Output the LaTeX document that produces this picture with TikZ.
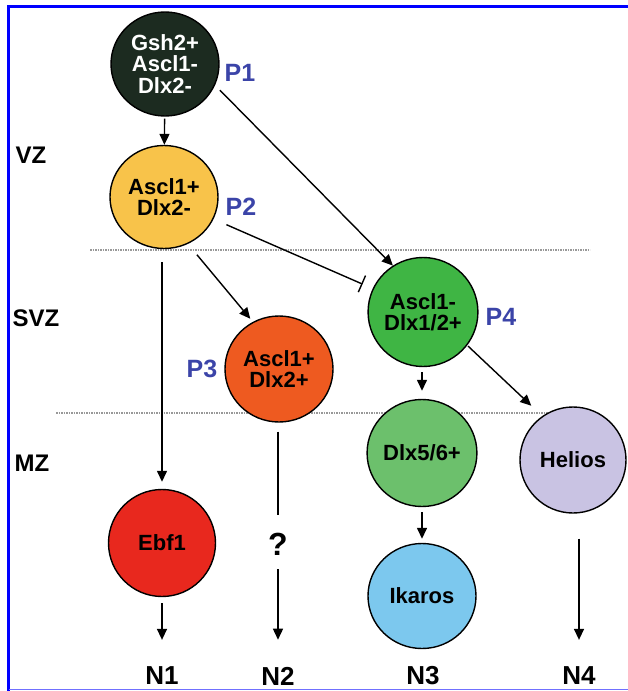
\documentclass[tikz,border=0pt]{standalone}
\usepackage{fontspec}
\setmainfont{Liberation Sans}
\usetikzlibrary{shapes.geometric,arrows.meta}
\definecolor{cdark}{HTML}{1C2B20}
\definecolor{cyellow}{HTML}{F8C34A}
\definecolor{corange}{HTML}{EE5A20}
\definecolor{cgreen}{HTML}{3FB544}
\definecolor{clgreen}{HTML}{6CC06C}
\definecolor{clav}{HTML}{C9C3E3}
\definecolor{cred}{HTML}{E8281E}
\definecolor{csky}{HTML}{7CC8EE}
\definecolor{pblue}{HTML}{3B44A8}
\definecolor{frameblue}{HTML}{0000FF}
\definecolor{framelight}{HTML}{7070FF}
\begin{document}
\begin{tikzpicture}[x=1pt,y=-1pt,
  cell/.style={ellipse,draw=black,line width=1.4pt,inner sep=0pt,
    minimum width=108pt,minimum height=106pt,
    font=\bfseries\fontsize{22}{21.5}\selectfont,align=center,text=black},
  plabel/.style={font=\bfseries\fontsize{25}{25}\selectfont,text=pblue,inner sep=0pt},
  zone/.style={font=\bfseries\fontsize{24}{24}\selectfont,inner sep=0pt},
  nlabel/.style={font=\bfseries\fontsize{26}{26}\selectfont,inner sep=0pt},
  arr/.style={-{Triangle[length=11pt,width=10pt]},line width=1.4pt},
  plain/.style={line width=1.4pt},
  inhib/.style={-{Bar[width=18pt,line width=1.4pt]},line width=1.4pt},
  sep/.style={draw=gray!80,line width=1.6pt,dash pattern=on 1.6pt off 0.9pt}]
\useasboundingbox (0,0) rectangle (628,691);

% frame
\draw[frameblue,line width=3pt] (8.5,691) -- (8.5,6.5) -- (628,6.5);
\draw[framelight,line width=1.8pt] (8.5,689.5) -- (628,689.5);

% zone separators
\draw[sep] (90,250) -- (590,250);
\draw[sep] (56,413) -- (562,413);

% zone labels
\node[zone] (vz) at (31,155) {VZ};
\node[zone] (svz) at (36,318) {SVZ};
\node[zone] (mz) at (32,463) {MZ};

% cells
\node[cell,fill=cdark,text=white,minimum height=104pt] (gsh) at (165,64) {Gsh2+\\Ascl1-\\Dlx2-};
\node[cell,fill=cyellow,minimum height=103pt] (p2c) at (164,197) {Ascl1+\\Dlx2-};
\node[cell,fill=corange] (p3c) at (279,369) {Ascl1+\\Dlx2+};
\node[cell,fill=cgreen,minimum width=109pt,minimum height=109pt] (p4c) at (423,312) {Ascl1-\\Dlx1/2+};
\node[cell,fill=clgreen,minimum height=107pt] (dlx56) at (422,453) {Dlx5/6+};
\node[cell,fill=clav,minimum width=106pt,minimum height=106pt] (helios) at (573,460) {Helios};
\node[cell,fill=cred,minimum width=107pt,minimum height=107pt] (ebf) at (162,543) {Ebf1};
\node[cell,fill=csky,minimum height=105pt] (ikaros) at (422,596) {Ikaros};

% P labels
\node[plabel] (p1) at (240,73) {P1};
\node[plabel] (p2) at (241,207) {P2};
\node[plabel] (p3) at (202,369) {P3};
\node[plabel] (p4) at (501,317) {P4};

% question mark and outputs
\node[font=\bfseries\fontsize{32}{32}\selectfont,inner sep=0pt] (q) at (278,544) {?};
\node[nlabel] (n1) at (162,676) {N1};
\node[nlabel] (n2) at (278,676) {N2};
\node[nlabel] (n3) at (423,676) {N3};
\node[nlabel] (n4) at (579,676) {N4};

% connectors
\draw[arr,shorten <=2pt] (gsh) -- (p2c);
\draw[arr,shorten <=7pt] (gsh.-23) -- (p4c.123);
\draw[inhib,shorten <=14pt,shorten >=11pt] (p2c.-24) -- (p4c.155);
\draw[arr,shorten <=14pt,shorten >=4pt] (p2c.-63) -- (p3c.119);
\draw[arr,shorten <=13pt,shorten >=7pt] (p2c.south -| ebf.north) -- (ebf.north);
\draw[plain,shorten <=9pt,shorten >=18pt] (p3c.south -| q.north) -- (q.north);
\draw[arr,shorten <=14pt,shorten >=27pt] (q.south) -- (n2.north);
\draw[arr,shorten <=5pt,shorten >=8pt] (p4c.south -| dlx56.north) -- (dlx56.north);
\draw[arr,shorten <=1pt,shorten >=15pt] (p4c.-37) -- (helios.125);
\draw[arr,shorten <=5pt,shorten >=4pt] (dlx56.south -| ikaros.north) -- (ikaros.north);
\draw[arr,shorten <=6pt,shorten >=27pt] (ebf.south) -- (n1.north);
\draw[arr,shorten <=25pt,shorten >=27pt] (helios.south -| n4.north) -- (n4.north);
\end{tikzpicture}
\end{document}
